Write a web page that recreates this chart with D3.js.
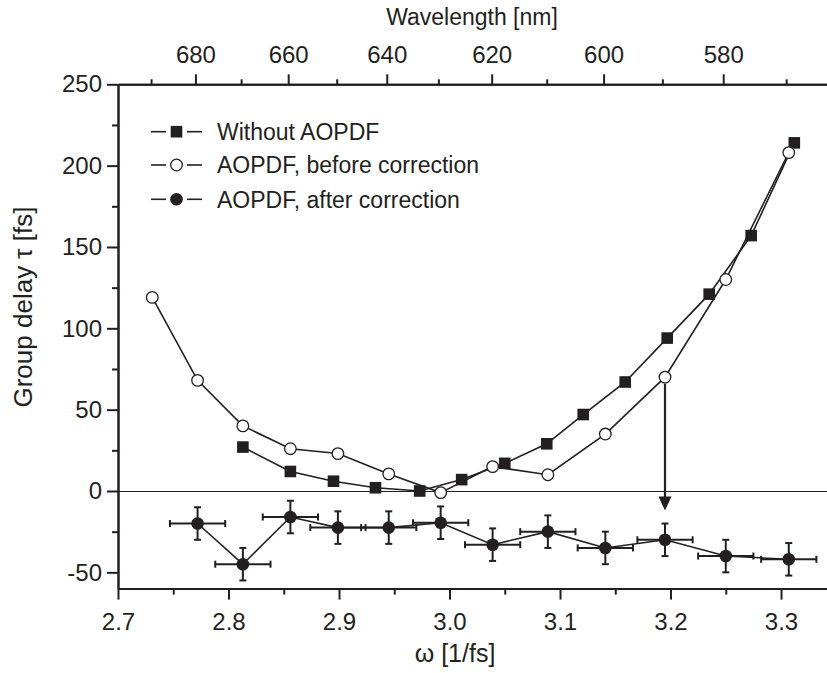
<!DOCTYPE html>
<html>
<head>
<meta charset="utf-8" />
<title>Group delay vs frequency</title>
<style>
  body { margin: 0; background: #fff; }
  #graph svg { display: block; }
  #graph text { font-family: "Liberation Sans", Arial, Helvetica, sans-serif; fill: #231f20; }
  .axis path, .axis line { stroke: #231f20; stroke-width: 2px; }
</style>
</head>
<body>
<div id="graph"></div>
<script src="https://cdnjs.cloudflare.com/ajax/libs/d3/7.8.5/d3.min.js"></script>
<script>
// data
var omegaSquare = [2.813, 2.856, 2.895, 2.933, 2.973, 3.011, 3.050, 3.088, 3.121, 3.159, 3.197, 3.235, 3.273, 3.312];
var delaySquare = [27, 12, 6, 2, 0, 7, 17, 29, 47, 67, 94, 121, 157, 214];

var omegaOpen = [2.731, 2.772, 2.813, 2.856, 2.899, 2.945, 2.992, 3.039, 3.089, 3.141, 3.195, 3.250, 3.307];
var delayOpen = [119, 68, 40, 26, 23, 10.5, -1, 15, 10, 35, 70, 130, 208];

var omegaFilled = [2.772, 2.813, 2.856, 2.899, 2.945, 2.992, 3.039, 3.089, 3.141, 3.195, 3.250, 3.307];
var delayFilled = [-20, -45, -16, -22.5, -22.5, -19.5, -33, -25, -35, -30, -40, -42];
var errOmega = [0.025, 0.025, 0.025, 0.025, 0.025, 0.025, 0.025, 0.025, 0.025, 0.025, 0.025, 0.025];
var errDelay = [10, 10, 10, 10, 10, 10, 10, 10, 10, 10, 10, 10];

var legendLabels = ["Without AOPDF", "AOPDF, before correction", "AOPDF, after correction"];
var xTicks = [2.7, 2.8, 2.9, 3.0, 3.1, 3.2, 3.3];
var yTicks = [-50, 0, 50, 100, 150, 200, 250];
var lambdaTicks = [680, 660, 640, 620, 600, 580];
var lambdaMinor = [690, 670, 650, 630, 610, 590, 570];
var arrowOmega = 3.195, arrowFrom = 66, arrowTo = -12;

var width = 827, height = 673;
var svg = d3.select("#graph").append("svg").attr("width", width).attr("height", height);

var x = d3.scaleLinear().domain([2.7, 3.3416]).range([118, 827]);
var y = d3.scaleLinear().domain([-60, 250]).range([588.6, 84.3]);
var toOmega = function(l) { return 1883.65 / l; }; // 2*pi*c, c in nm/fs

var plotLeft = x.range()[0], plotRight = x.range()[1];
var plotTop = y.range()[1], plotBottom = y.range()[0];

// zero line
svg.append("line")
  .attr("x1", plotLeft).attr("x2", plotRight)
  .attr("y1", Math.round(y(0)) + 0.5).attr("y2", Math.round(y(0)) + 0.5)
  .attr("stroke", "#231f20").attr("stroke-width", 1.2);

var line = d3.line().x(function(d) { return x(d[0]); }).y(function(d) { return y(d[1]); });

svg.append("path").datum(d3.zip(omegaSquare, delaySquare))
  .attr("d", line).attr("fill", "none").attr("stroke", "#231f20").attr("stroke-width", 1.6);
svg.append("path").datum(d3.zip(omegaOpen, delayOpen))
  .attr("d", line).attr("fill", "none").attr("stroke", "#231f20").attr("stroke-width", 1.6);
svg.append("path").datum(d3.zip(omegaFilled, delayFilled))
  .attr("d", line).attr("fill", "none").attr("stroke", "#231f20").attr("stroke-width", 1.6);

// error bars
var eb = svg.append("g").attr("stroke", "#231f20").attr("stroke-width", 2);
omegaFilled.forEach(function(w, i) {
  var cx = x(w), cy = y(delayFilled[i]);
  var x0 = x(w - errOmega[i]), x1 = x(w + errOmega[i]);
  var y0 = y(delayFilled[i] - errDelay[i]), y1 = y(delayFilled[i] + errDelay[i]);
  eb.append("line").attr("x1", x0).attr("x2", x1).attr("y1", cy).attr("y2", cy);
  eb.append("line").attr("x1", cx).attr("x2", cx).attr("y1", y0).attr("y2", y1);
  eb.append("line").attr("x1", x0).attr("x2", x0).attr("y1", cy - 3.5).attr("y2", cy + 3.5);
  eb.append("line").attr("x1", x1).attr("x2", x1).attr("y1", cy - 3.5).attr("y2", cy + 3.5);
  eb.append("line").attr("x1", cx - 3.5).attr("x2", cx + 3.5).attr("y1", y0).attr("y2", y0);
  eb.append("line").attr("x1", cx - 3.5).attr("x2", cx + 3.5).attr("y1", y1).attr("y2", y1);
});

// markers
function square(g, cx, cy) {
  g.append("rect").attr("x", cx - 5.8).attr("y", cy - 5.8).attr("width", 11.6).attr("height", 11.6)
    .attr("fill", "#231f20");
}
function openCircle(g, cx, cy) {
  g.append("circle").attr("cx", cx).attr("cy", cy).attr("r", 5.8)
    .attr("fill", "#fff").attr("stroke", "#231f20").attr("stroke-width", 1.3);
}
function filledCircle(g, cx, cy) {
  g.append("circle").attr("cx", cx).attr("cy", cy).attr("r", 6.3).attr("fill", "#231f20");
}
var marks = svg.append("g");
omegaSquare.forEach(function(w, i) { square(marks, x(w), y(delaySquare[i])); });
omegaOpen.forEach(function(w, i) { openCircle(marks, x(w), y(delayOpen[i])); });
omegaFilled.forEach(function(w, i) { filledCircle(marks, x(w), y(delayFilled[i])); });

// arrow
var ax = x(arrowOmega), ay0 = y(arrowFrom), ay1 = y(arrowTo);
svg.append("line").attr("x1", ax).attr("x2", ax).attr("y1", ay0).attr("y2", ay1 - 12)
  .attr("stroke", "#231f20").attr("stroke-width", 2.2);
svg.append("path")
  .attr("d", "M" + (ax - 6.5) + "," + (ay1 - 14) + "L" + (ax + 6.5) + "," + (ay1 - 14) + "L" + ax + "," + ay1 + "Z")
  .attr("fill", "#231f20");

// axes
var fmt = function(d) { return String(d); };
svg.append("g").attr("class", "axis").attr("transform", "translate(0," + plotBottom + ")")
  .call(d3.axisBottom(x).tickValues(xTicks).tickFormat(d3.format(".1f")).tickSize(11).tickSizeOuter(0).tickPadding(13));
svg.append("g").attr("class", "axis").attr("transform", "translate(0," + plotBottom + ")")
  .call(d3.axisBottom(x).tickValues([2.75, 2.85, 2.95, 3.05, 3.15, 3.25]).tickFormat("").tickSize(6).tickSizeOuter(0));

svg.append("g").attr("class", "axis").attr("transform", "translate(" + plotLeft + ",0)")
  .call(d3.axisLeft(y).tickValues(yTicks).tickFormat(fmt).tickSize(11).tickSizeOuter(0).tickPadding(5));
svg.append("g").attr("class", "axis").attr("transform", "translate(" + plotLeft + ",0)")
  .call(d3.axisLeft(y).tickValues([-25, 25, 75, 125, 175, 225]).tickFormat("").tickSize(6).tickSizeOuter(0));

svg.append("g").attr("class", "axis").attr("transform", "translate(0," + plotTop + ")")
  .call(d3.axisTop(x).tickValues(lambdaTicks.map(toOmega)).tickFormat(function(d) { return Math.round(1883.65 / d); })
    .tickSize(10).tickSizeOuter(0).tickPadding(11));
svg.append("g").attr("class", "axis").attr("transform", "translate(0," + plotTop + ")")
  .call(d3.axisTop(x).tickValues(lambdaMinor.map(toOmega)).tickFormat("").tickSize(5).tickSizeOuter(0));

svg.selectAll(".axis text").style("font-size", "24px").attr("fill", "#231f20");
svg.selectAll(".axis .domain").attr("stroke-width", 2.2);

// titles
svg.append("text").attr("x", 472).attr("y", 25).attr("text-anchor", "middle")
  .style("font-size", "23px").text("Wavelength [nm]");
svg.append("text").attr("x", 455).attr("y", 662).attr("text-anchor", "middle")
  .style("font-size", "25px").text("\u03c9 [1/fs]");
svg.append("text").attr("transform", "translate(31.5,307) rotate(-90)")
  .attr("text-anchor", "middle").style("font-size", "26px").text("Group delay \u03c4 [fs]");

// legend
var legY = [131.7, 165, 199.3];
var drawers = [square, openCircle, filledCircle];
var leg = svg.append("g");
legendLabels.forEach(function(label, i) {
  var ly = legY[i];
  leg.append("line").attr("x1", 151).attr("x2", 166).attr("y1", ly).attr("y2", ly)
    .attr("stroke", "#231f20").attr("stroke-width", 1.6);
  leg.append("line").attr("x1", 187).attr("x2", 202).attr("y1", ly).attr("y2", ly)
    .attr("stroke", "#231f20").attr("stroke-width", 1.6);
  drawers[i](leg, 176.5, ly);
  leg.append("text").attr("x", 217).attr("y", ly).attr("dy", "0.36em")
    .style("font-size", "23px").text(label);
});
</script>
</body>
</html>
